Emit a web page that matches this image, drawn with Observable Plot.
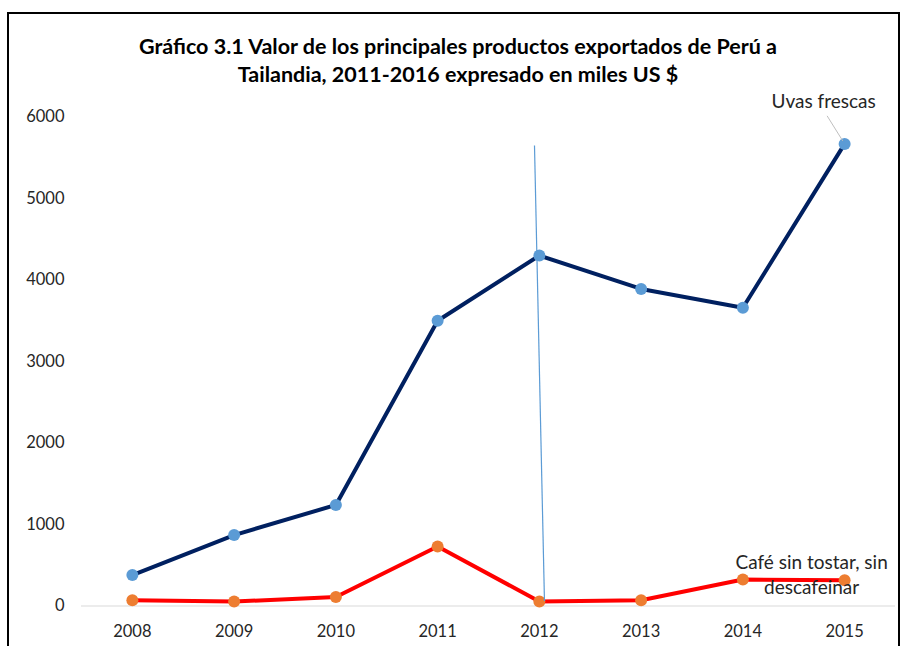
<!DOCTYPE html>
<html>
<head>
<meta charset="utf-8">
<script src="https://cdn.jsdelivr.net/npm/d3@7"></script>
<script src="https://cdn.jsdelivr.net/npm/@observablehq/plot@0.6"></script>
<style>
  html, body { margin: 0; padding: 0; background: #fff; }
  #wrap { position: relative; width: 904px; height: 646px; overflow: hidden; font-family: Lato, "Open Sans", sans-serif; }
  #frame { position: absolute; left: 7px; top: 12px; width: 893px; height: 700px; border: 2.5px solid #000; box-sizing: border-box; pointer-events: none; }
  #title { position: absolute; left: 0; top: 32px; width: 916px; text-align: center; font-weight: bold; font-size: 21.5px; line-height: 28px; color: #000; margin: 0; }
  #chart { position: absolute; left: 0; top: 0; }
</style>
</head>
<body>
<div id="wrap">
  <div id="chart"></div>
  <div id="frame"></div>
  <h2 id="title">Gráfico 3.1 Valor de los principales productos exportados de Perú a<br>Tailandia, 2011-2016 expresado en miles US $</h2>
</div>
<script>
const years = [2008, 2009, 2010, 2011, 2012, 2013, 2014, 2015];
const uvasFrescas = [380, 870, 1240, 3500, 4300, 3890, 3660, 5670];
const cafeSinTostar = [70, 55, 110, 730, 55, 70, 325, 315];
const yTicks = [0, 1000, 2000, 3000, 4000, 5000, 6000];
const seriesNames = ["Uvas frescas", "Café sin tostar, sin\ndescafeinar"];

const uvas = years.map((year, i) => ({year, value: uvasFrescas[i]}));
const cafe = years.map((year, i) => ({year, value: cafeSinTostar[i]}));
const last = years.length - 1;

const chart = Plot.plot({
  width: 904,
  height: 646,
  marginLeft: 81,
  marginRight: 9,
  marginTop: 116.5,
  marginBottom: 40.5,
  style: {fontFamily: "Lato, 'Open Sans', sans-serif", fontSize: "16px", color: "#262626", background: "transparent"},
  x: {type: "linear", domain: [2007.5, 2015.5], axis: null, label: null},
  y: {domain: [0, 6000], axis: null, label: null},
  marks: [
    Plot.ruleY([0], {stroke: "#d9d9d9", strokeWidth: 1}),
    Plot.axisY(yTicks, {tickSize: 0, tickPadding: 17, fontSize: 16.5, fill: "#262626", label: null, tickFormat: d => String(d)}),
    Plot.axisX(years, {tickSize: 0, tickPadding: 19, fontSize: 16.5, fill: "#262626", label: null, tickFormat: d => String(d)}),
    Plot.line(uvas, {x: "year", y: "value", stroke: "#002060", strokeWidth: 4}),
    Plot.dot(uvas, {x: "year", y: "value", r: 6, fill: "#5b9bd5", stroke: "none"}),
    Plot.line(cafe, {x: "year", y: "value", stroke: "#ff0000", strokeWidth: 4}),
    Plot.dot(cafe, {x: "year", y: "value", r: 6, fill: "#ed7d31", stroke: "none"}),
    Plot.link([0], {x1: 2011.952, y1: 5650, x2: 2012.05, y2: 60, stroke: "#5b9bd5", strokeWidth: 1.2}),
    Plot.arrow([uvas[last]], {x1: "year", y1: "value", x2: 2014.83, y2: 6010, headLength: 0, insetStart: 4, stroke: "#bfbfbf", strokeWidth: 1}),
    Plot.text([uvas[last]], {x: "year", y: "value", text: () => seriesNames[0], dx: -21, dy: -42, fontSize: 19, fill: "#262626"}),
    Plot.text([cafe[last]], {x: "year", y: "value", text: () => seriesNames[1], dx: -33, dy: -7, fontSize: 19, fill: "#262626", lineHeight: 1.32})
  ]
});
document.getElementById("chart").append(chart);
</script>
</body>
</html>
